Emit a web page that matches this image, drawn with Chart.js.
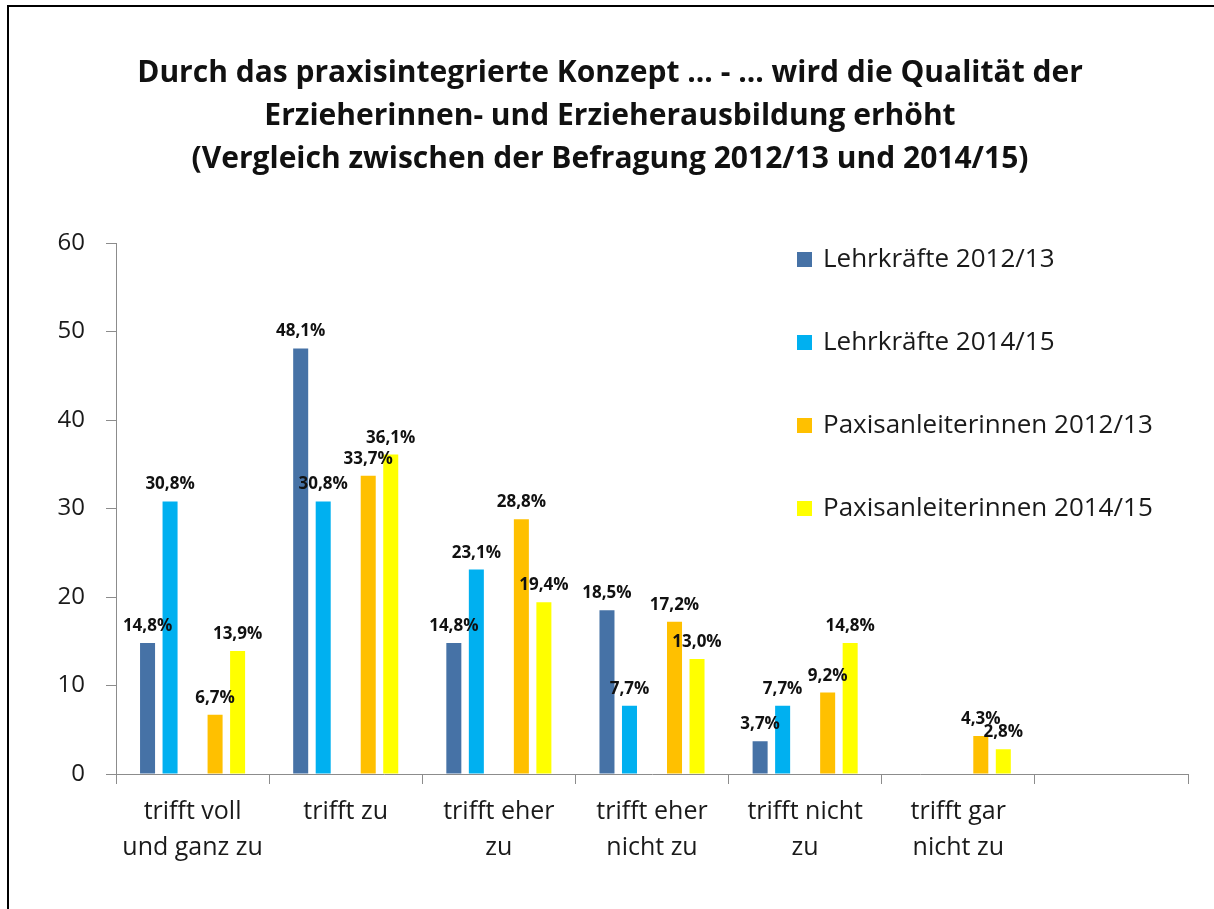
<!DOCTYPE html>
<html>
<head>
<meta charset="utf-8">
<title>Qualität der Erzieherausbildung</title>
<script src="https://cdn.jsdelivr.net/npm/chart.js@4.4.1/dist/chart.umd.min.js"></script>
<style>
  body { margin: 0; background: #fff; overflow: hidden; }
  #frame { position: absolute; left: 7px; top: 5px; width: 1300px; height: 1000px; border-top: 2px solid #000; border-left: 2px solid #000; }
  #chart { display: block; }
</style>
</head>
<body>
<div id="frame"><canvas id="chart" width="1205" height="902"></canvas></div>
<script>
// Chart data
const titleLines = [
  'Durch das praxisintegrierte Konzept ... - ... wird die Qualität der',
  'Erzieherinnen- und Erzieherausbildung erhöht',
  '(Vergleich zwischen der Befragung 2012/13 und 2014/15)'
];
const categories = [
  ['trifft voll', 'und ganz zu'],
  'trifft zu',
  ['trifft eher', 'zu'],
  ['trifft eher', 'nicht zu'],
  ['trifft nicht', 'zu'],
  ['trifft gar', 'nicht zu'],
  ''
];
const seriesNames = ['Lehrkräfte 2012/13', 'Lehrkräfte 2014/15', 'Paxisanleiterinnen 2012/13', 'Paxisanleiterinnen 2014/15'];
const lehrkraefte1213 = [14.8, 48.1, 14.8, 18.5, 3.7, null, null];
const lehrkraefte1415 = [30.8, 30.8, 23.1, 7.7, 7.7, null, null];
const praxis1213 = [6.7, 33.7, 28.8, 17.2, 9.2, 4.3, null];
const praxis1415 = [13.9, 36.1, 19.4, 13.0, 14.8, 2.8, null];
const emptySlot = [null, null, null, null, null, null, null];
const yMin = 0, yMax = 60, yStep = 10;

Chart.defaults.font.family = "'Open Sans', sans-serif";
Chart.defaults.color = '#1a1a1a';

const axisGray = '#8c8c8c';

// German number format for the bar labels
function fmt(v) {
  return v.toFixed(1).replace('.', ',') + '%';
}

// value labels above each bar
const valueLabels = {
  id: 'valueLabels',
  afterDatasetsDraw(chart) {
    const ctx = chart.ctx;
    ctx.save();
    ctx.font = "bold 17px 'Open Sans'";
    ctx.fillStyle = '#111';
    ctx.textAlign = 'center';
    ctx.textBaseline = 'alphabetic';
    chart.data.datasets.forEach((ds, i) => {
      chart.getDatasetMeta(i).data.forEach((bar, j) => {
        const v = ds.data[j];
        if (v == null) return;
        ctx.fillText(fmt(v), bar.x, bar.y - 12);
      });
    });
    ctx.restore();
  }
};

// legend stacked inside the plot, on the right
const sideLegend = {
  id: 'sideLegend',
  afterDraw(chart, args, opts) {
    const ctx = chart.ctx;
    let y = opts.top;
    ctx.save();
    ctx.font = opts.size + "px 'Open Sans'";
    ctx.textBaseline = 'middle';
    ctx.textAlign = 'left';
    chart.data.datasets.forEach(ds => {
      if (!ds.label) return;
      ctx.fillStyle = ds.backgroundColor;
      ctx.fillRect(opts.x, y - 8, 15, 15);
      ctx.fillStyle = '#1a1a1a';
      ctx.fillText(ds.label, opts.x + 26, y);
      y += opts.gap;
    });
    ctx.restore();
  }
};

const chart = new Chart(document.getElementById('chart').getContext('2d'), {
  type: 'bar',
  data: {
    labels: categories,
    datasets: [
      { label: seriesNames[0], data: lehrkraefte1213, backgroundColor: '#4672a6' },
      { label: seriesNames[1], data: lehrkraefte1415, backgroundColor: '#00b0f0' },
      { label: '', data: emptySlot, backgroundColor: 'rgba(0,0,0,0)' }, // gap between the two groups
      { label: seriesNames[2], data: praxis1213, backgroundColor: '#ffc000' },
      { label: seriesNames[3], data: praxis1415, backgroundColor: '#ffff00' }
    ]
  },
  options: {
    responsive: false,
    animation: false,
    devicePixelRatio: 1,
    categoryPercentage: 0.735,
    barPercentage: 0.667,
    layout: { padding: { left: 23, right: 26, top: 0, bottom: 0 } },
    plugins: {
      legend: { display: false },
      tooltip: { enabled: false },
      title: {
        display: true,
        text: titleLines,
        color: '#111',
        font: { size: 30, weight: 'bold', lineHeight: 1.435 },
        padding: { top: 45, bottom: 62 }
      },
      sideLegend: { x: 788, top: 253, gap: 83, size: 26 }
    },
    scales: {
      x: {
        grid: { offset: true, drawOnChartArea: false, tickLength: 10, color: axisGray },
        border: { color: axisGray },
        ticks: { font: { size: 25, lineHeight: 1.44 }, padding: 10, maxRotation: 0, autoSkip: false },
        afterFit(s) { s.height = 135; }
      },
      y: {
        min: yMin,
        max: yMax,
        ticks: { stepSize: yStep, font: { size: 24 }, padding: 21 },
        grid: { drawOnChartArea: false, tickLength: 10, color: axisGray },
        border: { color: axisGray },
        afterFit(s) { s.width = 84; }
      }
    }
  },
  plugins: [valueLabels, sideLegend]
});
</script>
</body>
</html>
